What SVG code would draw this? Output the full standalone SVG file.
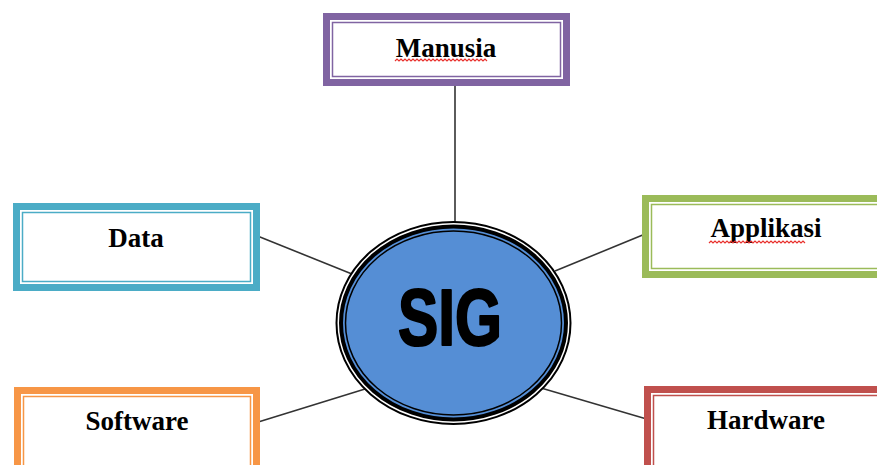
<svg xmlns="http://www.w3.org/2000/svg" width="877" height="465" viewBox="0 0 877 465">
  <style>
    .band { fill: #ffffff; stroke-width: 7; }
    .rule { fill: none; stroke-width: 1.5; }
    .label { font-family: "Liberation Serif", "Times New Roman", serif; font-weight: bold; font-size: 27px; fill: #000000; text-anchor: middle; }
    .wavy { fill: none; stroke: #e8302c; stroke-width: 1.2; }
    .link { stroke: #333333; stroke-width: 1.6; fill: none; }
    .purple { stroke: #8064a2; }
    .teal { stroke: #4bacc6; }
    .green { stroke: #9bbb59; }
    .orange { stroke: #f79646; }
    .red { stroke: #c0504d; }
  </style>

  <rect width="877" height="465" fill="#ffffff"/>

  <!-- spokes from the hub to each component -->
  <g id="connectors">
    <line class="link" x1="455" y1="86" x2="455" y2="224"/>
    <line class="link" x1="255" y1="235" x2="352" y2="274"/>
    <line class="link" x1="650" y1="232" x2="555" y2="271"/>
    <line class="link" x1="255" y1="423" x2="365" y2="389"/>
    <line class="link" x1="650" y1="420" x2="541" y2="388"/>
  </g>

  <g id="manusia">
    <rect class="band purple" x="326.5" y="16.5" width="240" height="66"/>
    <rect class="rule purple" x="332.5" y="22.5" width="228" height="54"/>
    <text class="label" x="446" y="57">Manusia</text>
    <path class="wavy" d="M395 61 l2 -2 2 2 2 -2 2 2 2 -2 2 2 2 -2 2 2 2 -2 2 2 2 -2 2 2 2 -2 2 2 2 -2 2 2 2 -2 2 2 2 -2 2 2 2 -2 2 2 2 -2 2 2 2 -2 2 2 2 -2 2 2 2 -2 2 2 2 -2 2 2 2 -2 2 2 2 -2 2 2 2 -2 2 2 2 -2 2 2 2 -2 2 2 2 -2 2 2 2 -2 2 2"/>
  </g>

  <g id="data">
    <rect class="band teal" x="16.5" y="206.5" width="240" height="81"/>
    <rect class="rule teal" x="22.5" y="212.5" width="228" height="69"/>
    <text class="label" x="136" y="247">Data</text>
  </g>

  <g id="applikasi">
    <rect class="band green" x="645.5" y="198.5" width="250" height="76"/>
    <rect class="rule green" x="651.5" y="204.5" width="238" height="64"/>
    <text class="label" x="766" y="237">Applikasi</text>
    <path class="wavy" d="M709 243 l2 -2 2 2 2 -2 2 2 2 -2 2 2 2 -2 2 2 2 -2 2 2 2 -2 2 2 2 -2 2 2 2 -2 2 2 2 -2 2 2 2 -2 2 2 2 -2 2 2 2 -2 2 2 2 -2 2 2 2 -2 2 2 2 -2 2 2 2 -2 2 2 2 -2 2 2 2 -2 2 2 2 -2 2 2 2 -2 2 2 2 -2 2 2 2 -2 2 2 2 -2 2 2 2 -2 2 2"/>
  </g>

  <g id="software">
    <rect class="band orange" x="17.5" y="390.5" width="239" height="90"/>
    <rect class="rule orange" x="23.5" y="396.5" width="227" height="78"/>
    <text class="label" x="137" y="430">Software</text>
  </g>

  <g id="hardware">
    <rect class="band red" x="647.5" y="389.5" width="250" height="90"/>
    <rect class="rule red" x="653.5" y="395.5" width="238" height="78"/>
    <text class="label" x="766" y="429">Hardware</text>
  </g>

  <!-- central hub: triple-lined ellipse -->
  <g id="sig">
    <ellipse cx="453.5" cy="323" rx="117" ry="101" fill="#ffffff" stroke="#000000" stroke-width="2"/>
    <ellipse cx="453.5" cy="323" rx="112.5" ry="96.5" fill="#558ed5" stroke="#000000" stroke-width="4"/>
    <ellipse cx="453.5" cy="323" rx="108" ry="92" fill="none" stroke="#000000" stroke-width="1.5"/>
    <text x="450" y="345" font-family="'Liberation Sans', Arial, sans-serif" font-weight="bold" font-size="80" text-anchor="middle" textLength="104" lengthAdjust="spacingAndGlyphs" fill="#000000" stroke="#000000" stroke-width="2.2" stroke-linejoin="round">SIG</text>
  </g>
</svg>
